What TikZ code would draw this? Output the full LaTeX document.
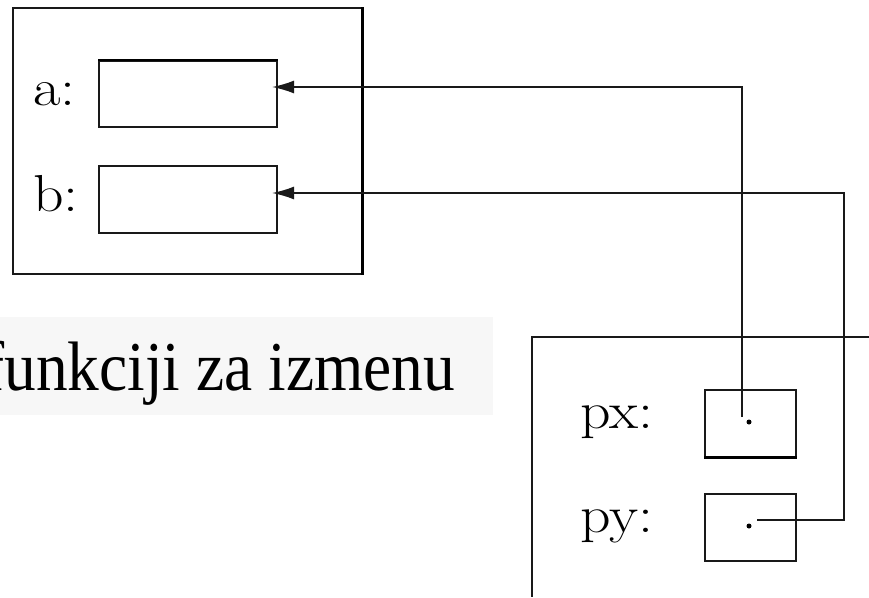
\documentclass[tikz,border=0pt]{standalone}
\usepackage{fontspec}
\newfontfamily\timesfont{Liberation Serif}
\usetikzlibrary{arrows.meta}
\definecolor{bandgray}{HTML}{F7F7F7}
\tikzset{
  ln/.style={line width=1.6pt, draw=black!90},
  cell/.style={ln, draw, rectangle, inner sep=0pt, anchor=north west},
  lbl/.style={inner sep=0pt, anchor=base west, font=\fontsize{52}{58}\selectfont},
  ptr/.style={ln, -{Latex[length=22pt,width=13pt]}},
  ptrdot/.style={circle, fill=black, inner sep=0pt, minimum size=5pt},
}
\newcommand{\wide}[1]{\scalebox{1.15}[1]{#1}}
\begin{document}
\begin{tikzpicture}[x=1pt,y=-1pt]
\useasboundingbox (0,0) rectangle (869,597);
\clip (0,0) rectangle (869,597);
% left frame
\node[cell, minimum width=349pt, minimum height=266pt] (frameL) at (12,7) {};
\draw[line width=3.6pt] (frameL.north east) -- (frameL.south east);
% cells a, b
\node[cell, minimum width=178pt, minimum height=66pt] (boxa) at (98,60) {};
\draw[line width=2.8pt] (boxa.north west) -- (boxa.north east);
\node[cell, minimum width=178pt, minimum height=67pt] (boxb) at (98,165) {};
\node[lbl] (la) at (33,105) {\wide{a:}};
\node[lbl] (lb) at (33,211) {\wide{b:}};
% gray band with text
\fill[bandgray] (0,317) rectangle (493,415);
\node[inner sep=0pt, anchor=base east, font=\timesfont\fontsize{70}{80}\selectfont] (cap) at (455,390) {\scalebox{0.905}[1]{funkciji za izmenu}};
% right frame
\draw[ln] (869,337) -- (532,337) -- (532,597);
% cells px, py
\node[cell, minimum width=91pt, minimum height=67pt] (boxpx) at (704,389) {};
\draw[line width=2.8pt] (boxpx.south west) -- (boxpx.south east);
\node[cell, minimum width=91pt, minimum height=67pt] (boxpy) at (704,493) {};
\node[lbl] (lpx) at (580,428) {\wide{px:}};
\node[lbl] (lpy) at (580,532) {\wide{py:}};
\node[ptrdot] (dx) at (749,422) {};
\node[ptrdot] (dy) at (749,526) {};
% pointer connectors
\coordinate (sa) at (742,417);
\coordinate (ta) at (272,87);
\coordinate (sb) at (757,520);
\coordinate (tb) at (272,193);
\draw[ptr] (sa) |- (ta);
\draw[ptr] (sb) -- (844,520) |- (tb);
\end{tikzpicture}
\end{document}
